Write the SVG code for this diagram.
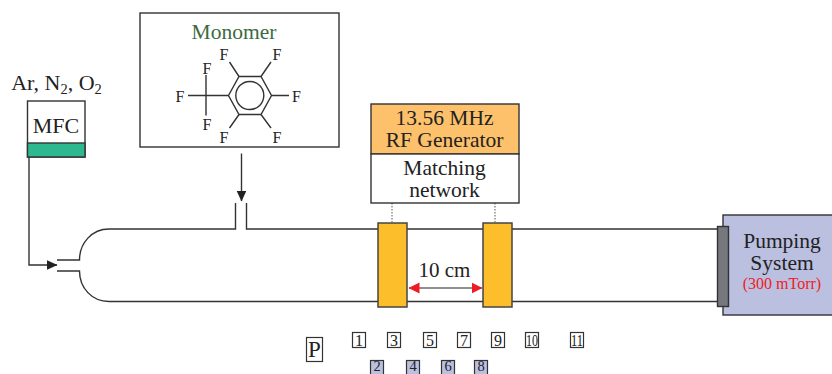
<svg xmlns="http://www.w3.org/2000/svg" width="832" height="374" viewBox="0 0 832 374">
<style>
text{font-family:"Liberation Serif","Times New Roman",serif;fill:#222;text-anchor:middle}
.l{fill:none;stroke:#333;stroke-width:1.4}
.f{font-size:16px}
.n{font-size:16px}
.m{font-size:14.500px}
.s{fill:#fff;stroke:#333;stroke-width:1.2}
.t{fill:#BBBFE0;stroke:#333;stroke-width:1.2}
.e{fill:#FDBE2C;stroke:#444;stroke-width:1.5}
</style>
<defs>
<marker id="k" markerUnits="userSpaceOnUse" markerWidth="11" markerHeight="11" refX="10.5" refY="5.5" orient="auto"><path d="M0 0.5L11 5.5L0 10.5Z" fill="#222"/></marker>
<marker id="r" markerUnits="userSpaceOnUse" markerWidth="11" markerHeight="12" refX="10.5" refY="6" orient="auto-start-reverse"><path d="M0 0.5L11 6L0 11.5Z" fill="#ED1C24"/></marker>
</defs>
<g id="connectors">
<path class="l" d="M57 260H79.500C79.500 243 92 229 109 229H235.500V203"/>
<path class="l" d="M246.500 203V229H378"/>
<path class="l" d="M57 271H79.500C79.500 288 92 301.500 109 301.500H378"/>
<path class="l" d="M512 229H720M512 301.500H720"/>
<path class="l" d="M407 301.500H483M407 229H483"/>
<path class="l" d="M29 157V265H57" marker-end="url(#k)"/>
<path class="l" d="M241.500 153.500V201" marker-end="url(#k)"/>
<path d="M392 203V222M495 203V222" fill="none" stroke="#555" stroke-width="1" stroke-dasharray="1.500 1.500"/>
<path d="M409 288H482" fill="none" stroke="#222" stroke-width="1.200" marker-start="url(#r)" marker-end="url(#r)"/>
</g>
<g id="gas-label"><text x="56.500" y="90" font-size="22">Ar, N<tspan font-size="14.500" dy="4">2</tspan><tspan dy="-4">, O</tspan><tspan font-size="14.500" dy="4">2</tspan></text></g>
<g id="mfc">
<rect x="27.500" y="101" width="57.500" height="56" fill="#fff" stroke="#333" stroke-width="1.400"/>
<rect x="27.500" y="143" width="57.500" height="14" fill="#2DB88F" stroke="#333" stroke-width="1.400"/>
<text x="56" y="133" font-size="22">MFC</text>
</g>
<g id="monomer">
<rect x="140" y="13" width="199" height="134" fill="#fff" stroke="#333" stroke-width="1.400"/>
<text x="234" y="39" font-size="21.500" style="fill:#3C6B3F">Monomer</text>
<path class="l" d="M228.500 95.500L239 76.500H261L271.500 95.500L261 114.500H239Z"/>
<circle class="l" cx="249.800" cy="95.500" r="14"/>
<path class="l" d="M188 95.500H228.500M206 75V115.500M239 76.500L229.500 62M261 76.500L271 62M271.500 95.500H289M239 114.500L229.500 128M261 114.500L271 128"/>
<text class="f" x="224" y="59.500">F</text>
<text class="f" x="277" y="59.500">F</text>
<text class="f" x="207" y="74">F</text>
<text class="f" x="180" y="101.500">F</text>
<text class="f" x="296.500" y="101.500">F</text>
<text class="f" x="207" y="130">F</text>
<text class="f" x="224" y="142.500">F</text>
<text class="f" x="277" y="142.500">F</text>
</g>
<g id="rf-generator">
<rect x="371" y="104" width="148" height="50" fill="#FDC16B" stroke="#333" stroke-width="1.400"/>
<text font-size="21.500"><tspan x="444.500" y="125">13.56 MHz</tspan><tspan x="444.500" y="147">RF Generator</tspan></text>
</g>
<g id="matching-network">
<rect x="371" y="154" width="148" height="49" fill="#fff" stroke="#333" stroke-width="1.400"/>
<text font-size="21.500"><tspan x="444.500" y="175">Matching</tspan><tspan x="444.500" y="197">network</tspan></text>
</g>
<g id="electrode-1"><rect class="e" x="378" y="223" width="29" height="84"/></g>
<g id="electrode-2"><rect class="e" x="483" y="223" width="29" height="84"/></g>
<g id="spacing"><text x="444.500" y="277" font-size="21">10 cm</text></g>
<g id="pumping-system">
<rect x="723" y="215" width="110" height="100" fill="#BBBFE0" stroke="#333" stroke-width="1.400"/>
<text font-size="21.500"><tspan x="782" y="248">Pumping</tspan><tspan x="782" y="270">System</tspan></text>
<text x="782" y="289" font-size="16" style="fill:#ED1C24">(300 mTorr)</text>
</g>
<g id="flange"><rect x="717.500" y="226.500" width="11" height="80" fill="#75787C" stroke="#333" stroke-width="1.400"/></g>
<g id="p"><rect class="s" x="306.500" y="337.500" width="16" height="24"/><text x="314.500" y="356.500" font-size="23">P</text></g>
<g id="p1"><rect class="s" x="352.500" y="332.500" width="13" height="15"/><text class="n" x="359" y="345.700">1</text></g>
<g id="p3"><rect class="s" x="387.500" y="332.500" width="13" height="15"/><text class="n" x="394" y="345.700">3</text></g>
<g id="p5"><rect class="s" x="423.500" y="332.500" width="13" height="15"/><text class="n" x="430" y="345.700">5</text></g>
<g id="p7"><rect class="s" x="457.500" y="332.500" width="13" height="15"/><text class="n" x="464" y="345.700">7</text></g>
<g id="p9"><rect class="s" x="491.500" y="332.500" width="13" height="15"/><text class="n" x="498" y="345.700">9</text></g>
<g id="p10"><rect class="s" x="525.500" y="332.500" width="13" height="15"/><text class="n" x="532" y="345.700" textLength="12" lengthAdjust="spacingAndGlyphs">10</text></g>
<g id="p11"><rect class="s" x="570.500" y="332.500" width="13" height="15"/><text class="n" x="577" y="345.700" textLength="12" lengthAdjust="spacingAndGlyphs">11</text></g>
<g id="p2"><rect class="t" x="370.500" y="360.500" width="13" height="15"/><text class="m" x="377" y="370.800">2</text></g>
<g id="p4"><rect class="t" x="406.500" y="360.500" width="13" height="15"/><text class="m" x="413" y="370.800">4</text></g>
<g id="p6"><rect class="t" x="441.500" y="360.500" width="13" height="15"/><text class="m" x="448" y="370.800">6</text></g>
<g id="p8"><rect class="t" x="474.500" y="360.500" width="13" height="15"/><text class="m" x="481" y="370.800">8</text></g>
</svg>
